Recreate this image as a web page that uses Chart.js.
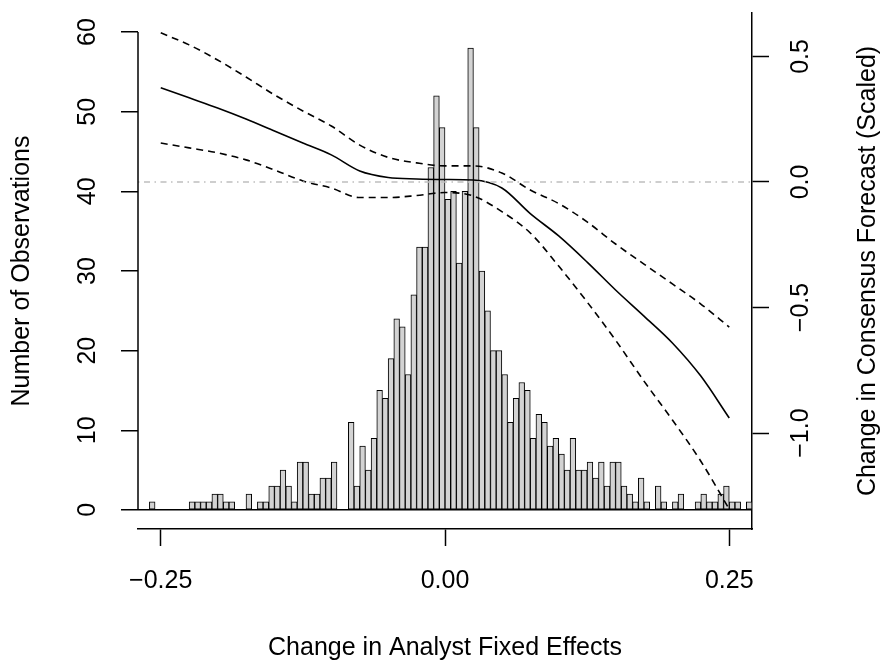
<!DOCTYPE html>
<html>
<head>
<meta charset="utf-8">
<title>Change in Analyst Fixed Effects</title>
<script src="https://cdn.jsdelivr.net/npm/chart.js@4.4.0/dist/chart.umd.min.js"></script>
<style>
  html, body { margin: 0; padding: 0; background: #fff; }
  canvas { display: block; }
</style>
</head>
<body>
<canvas id="res" width="887" height="661"></canvas>
<script>
(function () {

    // histogram bins: start at -0.27, each 0.005 wide
    var binStart = -0.27;
    var binWidth = 0.005;
    var counts = [
        0, 0, 1, 0, 0, 0, 0, 0, 0, 1,
        1, 1, 1, 2, 2, 1, 1, 0, 0, 2,
        0, 1, 1, 3, 3, 5, 3, 1, 6, 6,
        2, 2, 4, 4, 6, 0, 0, 11, 3, 8,
        5, 9, 15, 14, 19, 24, 23, 17, 27, 33,
        33, 43, 52, 48, 39, 40, 31, 40, 58, 48,
        30, 25, 20, 20, 17, 11, 14, 16, 15, 9,
        12, 11, 8, 9, 7, 5, 9, 5, 5, 6,
        4, 6, 3, 6, 6, 3, 2, 1, 4, 1,
        0, 3, 1, 0, 1, 2, 0, 0, 1, 2,
        1, 1, 2, 3, 1, 1, 0, 1
    ];

    // smoothed change in consensus forecast (right axis) and its band
    var curveX = [-0.25, -0.225, -0.2, -0.175, -0.15, -0.125, -0.1, -0.075, -0.05, -0.025,
                  0, 0.025, 0.05, 0.075, 0.1, 0.125, 0.15, 0.175, 0.2, 0.225, 0.25];
    var fitY   = [0.375, 0.335, 0.295, 0.251, 0.203, 0.155, 0.108, 0.044, 0.018, 0.012,
                  0.010, 0.008, -0.024, -0.126, -0.215, -0.319, -0.430, -0.534, -0.641, -0.773, -0.940];
    var upperY = [0.594, 0.546, 0.486, 0.418, 0.347, 0.283, 0.223, 0.147, 0.098, 0.076,
                  0.064, 0.064, 0.036, -0.032, -0.086, -0.159, -0.247, -0.327, -0.406, -0.486, -0.578];
    var lowerY = [0.155, 0.136, 0.116, 0.088, 0.048, 0.004, -0.024, -0.062, -0.062, -0.054,
                  -0.042, -0.056, -0.118, -0.203, -0.335, -0.478, -0.630, -0.793, -0.948, -1.112, -1.303];

    var xTicks = [-0.25, 0, 0.25];
    var leftTicks = [0, 10, 20, 30, 40, 50, 60];
    var rightTicks = [-1, -0.5, 0, 0.5];

    var FONT = "'Liberation Sans', Arial, Helvetica, sans-serif";
    var FS = 25;

    function minus(v, d) {
        return (v < 0 ? '\u2212' : '') + Math.abs(v).toFixed(d);
    }

    var bars = counts.map(function (c, i) {
        return {x: binStart + binWidth * (i + 0.5), y: c};
    });
    function pts(ys) {
        return curveX.map(function (x, i) { return {x: x, y: ys[i]}; });
    }
    function noPad(s) {
        s.paddingTop = 0; s.paddingBottom = 0; s.paddingLeft = 0; s.paddingRight = 0;
    }

    // left axis line only spans the tick range (0..60), right title reads upwards
    var extras = {
        id: 'extras',
        afterDraw: function (chart) {
            var c = chart.ctx, a = chart.chartArea, y = chart.scales.y;
            c.save();
            c.strokeStyle = '#000';
            c.lineWidth = 1.5;
            c.beginPath();
            c.moveTo(a.left, y.getPixelForValue(leftTicks[0]));
            c.lineTo(a.left, y.getPixelForValue(leftTicks[leftTicks.length - 1]));
            c.stroke();

            c.translate(a.right + 116, (a.top + a.bottom) / 2);
            c.rotate(-Math.PI / 2);
            c.fillStyle = '#000';
            c.font = FS + 'px ' + FONT;
            c.textAlign = 'center';
            c.textBaseline = 'middle';
            c.fillText('Change in Consensus Forecast (Scaled)', 0, 0);
            c.restore();
        }
    };

    var ctx = document.getElementById('res').getContext('2d');

    new Chart(ctx, {
        type: 'bar',
        data: {
            datasets: [{
                type: 'line',
                label: 'zero',
                data: [{x: binStart, y: 0}, {x: -binStart, y: 0}],
                yAxisID: 'y2',
                borderColor: '#bebebe',
                borderWidth: 1.3,
                borderDash: [1.5, 4.5, 6, 4.5],
                pointRadius: 0,
                order: 0
            }, {
                type: 'line',
                label: 'fit',
                data: pts(fitY),
                yAxisID: 'y2',
                borderColor: '#000',
                borderWidth: 1.6,
                cubicInterpolationMode: 'monotone',
                pointRadius: 0,
                order: 0
            }, {
                type: 'line',
                label: 'upper',
                data: pts(upperY),
                yAxisID: 'y2',
                borderColor: '#000',
                borderWidth: 1.6,
                borderDash: [7, 5],
                cubicInterpolationMode: 'monotone',
                pointRadius: 0,
                order: 0
            }, {
                type: 'line',
                label: 'lower',
                data: pts(lowerY),
                yAxisID: 'y2',
                borderColor: '#000',
                borderWidth: 1.6,
                borderDash: [7, 5],
                cubicInterpolationMode: 'monotone',
                pointRadius: 0,
                order: 0
            }, {
                label: 'Observations',
                data: bars,
                yAxisID: 'y',
                backgroundColor: '#d3d3d3',
                borderColor: '#000',
                borderWidth: 1,
                borderSkipped: false,
                barPercentage: 1,
                categoryPercentage: 1,
                order: 1
            }]
        },
        options: {
            responsive: false,
            animation: false,
            layout: {padding: {top: 13, left: 0, right: 0, bottom: 0}},
            plugins: {legend: {display: false}, tooltip: {enabled: false}},
            scales: {
                x: {
                    type: 'linear',
                    position: 'bottom',
                    min: binStart,
                    max: -binStart,
                    offset: false,
                    afterBuildTicks: function (s) { s.ticks = xTicks.map(function (v) { return {value: v}; }); },
                    afterFit: function (s) { s.height = 132; noPad(s); },
                    grid: {offset: false, drawOnChartArea: false, tickLength: 17, tickColor: '#000', tickWidth: 1.5},
                    border: {display: true, color: '#000', width: 1.5},
                    ticks: {
                        autoSkip: false, maxRotation: 0, padding: 20, color: '#000',
                        font: {family: FONT, size: FS},
                        callback: function (v) { return minus(v, 2); }
                    },
                    title: {
                        display: true, text: 'Change in Analyst Fixed Effects', color: '#000',
                        font: {family: FONT, size: FS, lineHeight: 0.8}, padding: {top: 0, bottom: 3}
                    }
                },
                y: {
                    type: 'linear',
                    position: 'left',
                    min: -2.4,
                    max: 62.4,
                    afterBuildTicks: function (s) { s.ticks = leftTicks.map(function (v) { return {value: v}; }); },
                    afterFit: function (s) { s.width = 138; noPad(s); },
                    grid: {
                        drawOnChartArea: true, tickLength: 17, tickColor: '#000', tickWidth: 1.5, lineWidth: 1.5,
                        color: function (c) { return c.tick && c.tick.value === 0 ? '#000' : 'rgba(0,0,0,0)'; }
                    },
                    border: {display: false},
                    ticks: {
                        autoSkip: false, minRotation: 90, maxRotation: 90, crossAlign: 'center', padding: 19,
                        color: '#000', font: {family: FONT, size: FS},
                        callback: function (v) { return String(v); }
                    },
                    title: {
                        display: true, text: 'Number of Observations', color: '#000',
                        font: {family: FONT, size: FS, lineHeight: 1}, padding: {top: 9.5, bottom: 0}
                    }
                },
                y2: {
                    type: 'linear',
                    position: 'right',
                    min: -1.382,
                    max: 0.673,
                    afterBuildTicks: function (s) { s.ticks = rightTicks.map(function (v) { return {value: v}; }); },
                    afterFit: function (s) { s.width = 135; noPad(s); },
                    grid: {drawOnChartArea: false, tickLength: 17, tickColor: '#000', tickWidth: 1.5},
                    border: {display: true, color: '#000', width: 1.5},
                    ticks: {
                        autoSkip: false, minRotation: 90, maxRotation: 90, crossAlign: 'center', padding: 7,
                        color: '#000', font: {family: FONT, size: FS},
                        callback: function (v) { return minus(v, 1); }
                    }
                }
            }
        },
        plugins: [extras]
    });

})();
</script>
</body>
</html>
